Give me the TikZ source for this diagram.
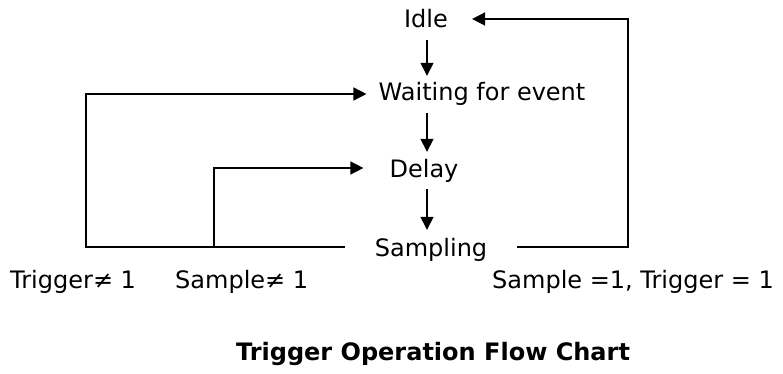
\documentclass[tikz,border=0pt]{standalone}
\usepackage{fontspec}
\setmainfont{DejaVu Sans}
\usetikzlibrary{arrows.meta, calc}

\begin{document}
\begin{tikzpicture}[x=1pt, y=-1pt, font=\fontsize{24}{27}\selectfont,
    state/.style={inner xsep=0pt, inner ysep=6pt, text height=17pt, text depth=5pt},
    flow/.style={line width=1.5pt, -{Triangle[length=13pt, width=13pt]}},
    cond/.style={anchor=west, inner sep=0pt}]
  \useasboundingbox (0,0) rectangle (783,374);
  \node[state] (idle) at (426,22) {Idle};
  \node[state] (wait) at (482,95) {Waiting for event};
  \node[state] (delay) at (424,171) {Delay};
  \node[state] (samp) at (431,250) {Sampling};
  \coordinate (lt) at (86,247);
  \coordinate (mid) at (214,247);
  \coordinate (rt) at (628,247);
  \coordinate (spine) at (427,0);
  \draw[flow] ([yshift=-1pt]idle.south -| spine) to ([yshift=2pt]wait.north -| spine);
  \draw[flow] ([yshift=-1pt]wait.south -| spine) to ([yshift=2pt]delay.north -| spine);
  \draw[flow] ([yshift=-1pt]delay.south -| spine) to ([yshift=3pt]samp.north -| spine);
  \draw[flow, shorten <=30pt, shorten >=12pt] (samp.west |- lt) -- (lt) |- ([yshift=1pt]wait.west);
  \draw[flow, shorten >=26pt] (mid) |- ([yshift=3pt]delay.west);
  \draw[flow, shorten <=30pt, shorten >=24pt] (samp.east |- rt) -- (rt) |- ([yshift=3pt]idle.east);
  \node[cond] (c1) at (10,282) {Trigger≠ 1};
  \node[cond] (c2) at (175,282) {Sample≠ 1};
  \node[cond] (c3) at (492,282) {Sample =1, Trigger = 1};
  \node[font=\fontsize{24}{27}\selectfont\bfseries] (title) at (433,354) {Trigger Operation Flow Chart};
\end{tikzpicture}
\end{document}
